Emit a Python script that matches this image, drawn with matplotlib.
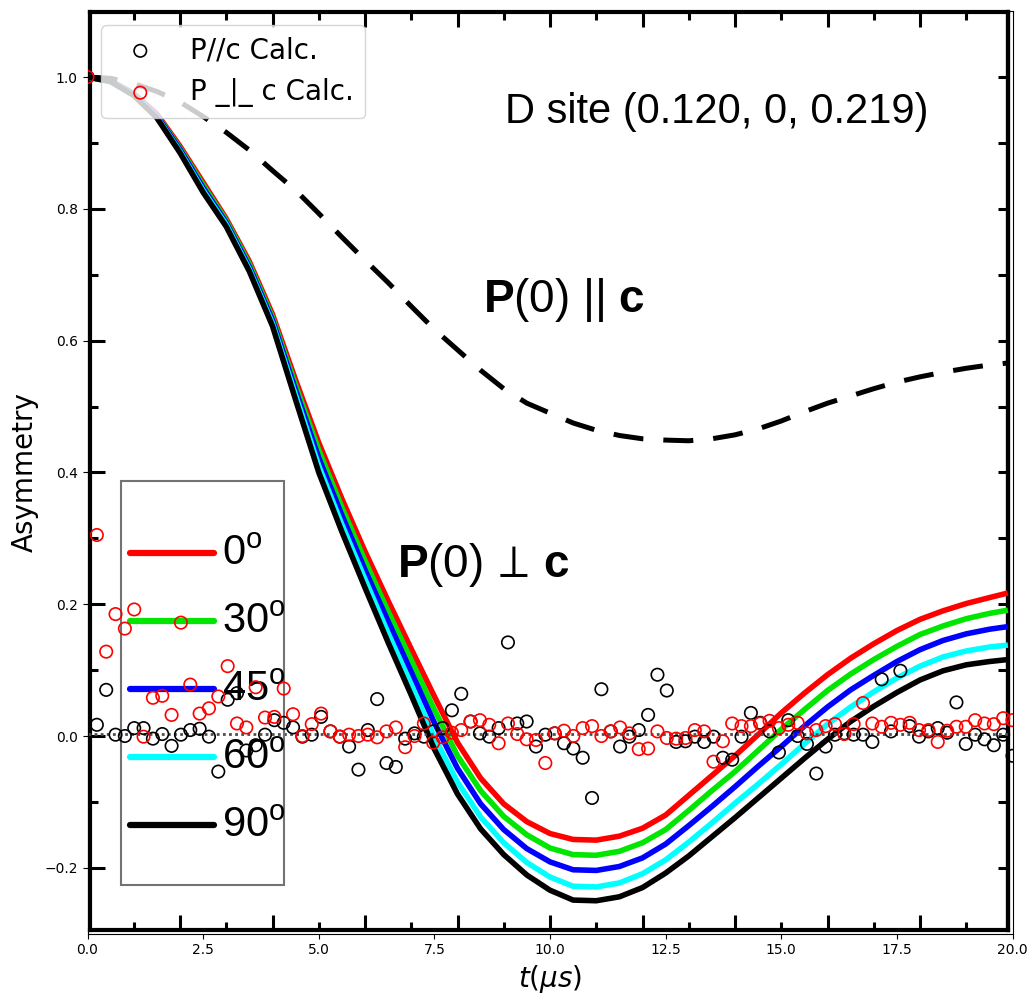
import numpy as np
import matplotlib.pyplot as plt
from matplotlib.patches import Rectangle

plt.rcParams['mathtext.fontset'] = 'custom'
plt.rcParams['mathtext.rm'] = 'Liberation Sans'
plt.rcParams['mathtext.bf'] = 'Liberation Sans:bold'
plt.rcParams['mathtext.it'] = 'Liberation Sans:italic'

# simulated muon asymmetry, 100 time points
t_calc = np.linspace(0, 20, 100)
p_par = [1.0, 0.017, 0.070, 0.002, 0.000, 0.012, 0.012, -0.004, 0.003, -0.015,
         0.002, 0.009, 0.011, -0.001, -0.054, 0.055, 0.065, -0.022, -0.014, 0.002,
         0.024, 0.020, 0.013, -0.001, 0.002, 0.029, 0.007, -0.001, -0.016, -0.051,
         0.009, 0.056, -0.041, -0.047, -0.004, 0.004, -0.001, 0.007, 0.012, 0.039,
         0.064, 0.022, 0.004, -0.001, 0.012, 0.142, 0.019, 0.022, -0.016, 0.002,
         0.004, -0.011, -0.019, -0.033, -0.094, 0.071, 0.007, -0.016, -0.001, 0.009,
         0.032, 0.093, 0.069, -0.009, -0.008, -0.001, -0.009, -0.001, -0.033, -0.036,
         -0.001, 0.035, 0.020, 0.007, -0.025, 0.024, 0.000, -0.012, -0.057, -0.016,
         0.002, 0.004, 0.002, 0.002, -0.009, 0.086, 0.007, 0.099, 0.015, -0.001,
         0.007, 0.012, 0.005, 0.051, -0.012, 0.002, -0.005, -0.014, 0.002, -0.030]
p_perp = [1.0, 0.305, 0.128, 0.185, 0.163, 0.192, -0.001, 0.058, 0.061, 0.032,
          0.172, 0.078, 0.034, 0.042, 0.060, 0.106, 0.019, 0.013, 0.074, 0.028,
          0.029, 0.072, 0.033, 0.000, 0.018, 0.034, 0.007, -0.001, 0.002, 0.000,
          0.002, -0.002, 0.007, 0.013, -0.017, 0.000, 0.019, -0.010, -0.002, 0.005,
          0.009, 0.022, 0.024, 0.017, -0.011, 0.019, 0.003, -0.005, -0.006, -0.041,
          0.004, 0.008, 0.000, 0.012, 0.015, 0.000, 0.007, 0.013, 0.004, -0.020,
          -0.019, 0.007, -0.003, -0.004, -0.003, 0.009, 0.007, -0.039, -0.008, 0.019,
          0.015, 0.015, 0.019, 0.023, 0.012, 0.017, 0.020, 0.004, 0.009, 0.015,
          0.018, 0.003, 0.018, 0.050, 0.019, 0.014, 0.020, 0.017, 0.020, 0.009,
          0.009, -0.009, 0.008, 0.014, 0.014, 0.024, 0.019, 0.018, 0.027, 0.024]

# curves of the published figure (background)
t_curve = np.r_[np.arange(0, 19.6, 0.5), 19.9]
deg0 = [1.000, 0.994, 0.975, 0.944, 0.895, 0.840, 0.785, 0.720, 0.640, 0.540,
        0.445, 0.360, 0.280, 0.205, 0.132, 0.060, -0.010, -0.064, -0.103, -0.130,
        -0.148, -0.157, -0.158, -0.152, -0.140, -0.120, -0.090, -0.060, -0.030, 0.002,
        0.035, 0.065, 0.093, 0.118, 0.140, 0.160, 0.177, 0.190, 0.201, 0.210, 0.217]
deg30 = [1.000, 0.994, 0.974, 0.942, 0.892, 0.836, 0.782, 0.716, 0.635, 0.532,
         0.434, 0.347, 0.266, 0.189, 0.115, 0.040, -0.030, -0.083, -0.122, -0.150,
         -0.170, -0.180, -0.181, -0.175, -0.162, -0.142, -0.113, -0.083, -0.054, -0.022,
         0.010, 0.040, 0.069, 0.094, 0.116, 0.136, 0.154, 0.167, 0.178, 0.186, 0.191]
deg45 = [1.000, 0.994, 0.974, 0.941, 0.890, 0.832, 0.779, 0.712, 0.631, 0.525,
         0.422, 0.335, 0.252, 0.174, 0.097, 0.020, -0.049, -0.103, -0.142, -0.171,
         -0.191, -0.203, -0.204, -0.198, -0.185, -0.164, -0.136, -0.107, -0.077, -0.046,
         -0.016, 0.015, 0.044, 0.070, 0.092, 0.113, 0.131, 0.145, 0.155, 0.162, 0.166]
deg60 = [1.000, 0.993, 0.973, 0.939, 0.887, 0.828, 0.776, 0.708, 0.626, 0.517,
         0.410, 0.321, 0.238, 0.156, 0.078, -0.002, -0.070, -0.123, -0.162, -0.192,
         -0.214, -0.228, -0.229, -0.223, -0.209, -0.188, -0.161, -0.132, -0.102, -0.073,
         -0.043, -0.012, 0.018, 0.044, 0.067, 0.088, 0.106, 0.120, 0.129, 0.135, 0.138]
deg90 = [1.000, 0.993, 0.972, 0.938, 0.885, 0.825, 0.773, 0.705, 0.622, 0.510,
         0.400, 0.310, 0.225, 0.142, 0.062, -0.020, -0.088, -0.141, -0.180, -0.211,
         -0.234, -0.249, -0.250, -0.244, -0.230, -0.208, -0.182, -0.153, -0.124, -0.094,
         -0.064, -0.034, -0.005, 0.022, 0.045, 0.066, 0.085, 0.099, 0.108, 0.113, 0.116]
par_curve = [1.000, 0.998, 0.990, 0.978, 0.962, 0.940, 0.916, 0.889, 0.858, 0.828,
             0.793, 0.757, 0.722, 0.688, 0.652, 0.617, 0.586, 0.555, 0.527, 0.505,
             0.490, 0.475, 0.464, 0.456, 0.451, 0.449, 0.448, 0.451, 0.457, 0.466,
             0.478, 0.492, 0.505, 0.516, 0.527, 0.537, 0.545, 0.552, 0.558, 0.563, 0.566]

angle_labels = ['0', '30', '45', '60', '90']
angle_curves = [deg0, deg30, deg45, deg60, deg90]
angle_colors = ['#ff0000', '#00e600', '#0000ff', '#00ffff', '#000000']

fig = plt.figure(figsize=(10.36, 10.05), dpi=100)
ax = fig.add_axes([87.5 / 1036, 1 - 933.7 / 1005, 925 / 1036, 922.6 / 1005])
inner = fig.add_axes([89.5 / 1036, 1 - 929.5 / 1005, 918 / 1036, 917 / 1005])
inner.set_zorder(0)
ax.set_zorder(1)
ax.patch.set_visible(False)

# frame of the embedded figure
inner.set_xlim(0.043, 19.89)
inner.set_ylim(-0.2936, 1.0979)
inner.set_xticks(np.arange(2, 20, 2))
inner.set_xticks(np.arange(1, 20, 2), minor=True)
inner.set_yticks(np.arange(-0.2, 1.01, 0.2))
inner.set_yticks(np.arange(-0.1, 1.01, 0.2), minor=True)
inner.tick_params(which='both', direction='in', top=True, right=False, width=2.2,
                  labelbottom=False, labelleft=False)
inner.tick_params(which='major', length=11)
inner.tick_params(which='minor', length=6)
for s in inner.spines.values():
    s.set_linewidth(3)
sec = inner.secondary_yaxis('right')
sec.set_yticks(np.arange(-0.2, 1.05, 0.1))
sec.set_yticklabels([])
sec.tick_params(direction='in', length=7, width=2.2)
sec.spines['right'].set_linewidth(3)

for vals, col in zip(angle_curves, angle_colors):
    ax.plot(t_curve, vals, color=col, lw=4, solid_capstyle='butt', zorder=1)
ax.plot(t_curve, par_curve, color='k', lw=3.6, dashes=(6, 4), zorder=1)
ax.axhline(0.003, xmin=0, xmax=0.995, color='0.3', lw=2, dashes=(1, 1.2), zorder=1.5)

# legend box of the embedded figure
ax.add_patch(Rectangle((0.0357, 0.0528), 0.1763, 0.4382, transform=ax.transAxes,
                       facecolor='none', edgecolor='0.45', lw=1.5, zorder=2))
for i, (lab, col) in enumerate(zip(angle_labels, angle_colors)):
    yy = 0.4126 - i * 0.0737
    ax.plot([0.046, 0.1368], [yy, yy], transform=ax.transAxes, color=col, lw=4.5,
            solid_capstyle='round', zorder=2)
    ax.text(0.145, yy, r'$\mathrm{%s}^{\mathrm{o}}$' % lab, transform=ax.transAxes,
            fontsize=30, va='center', ha='left', zorder=2)

ax.text(9.03, 0.947, 'D site (0.120, 0, 0.219)', family='Liberation Sans',
        fontsize=30, va='center', ha='left', zorder=2)
ax.text(8.55, 0.662, r'$\mathbf{P}\mathrm{(0)\ ||\ }\mathbf{c}$', fontsize=33,
        va='center', ha='left', zorder=2)
ax.text(6.69, 0.259, r'$\mathbf{P}\mathrm{(0)}\,\perp\,\mathbf{c}$', fontsize=33,
        va='center', ha='left', zorder=2)

ax.scatter(t_calc, p_par, s=80, facecolors='none', edgecolors='k', linewidths=1.2,
           label='P//c Calc.', zorder=3)
ax.scatter(t_calc, p_perp, s=80, facecolors='none', edgecolors='r', linewidths=1.2,
           label='P _|_ c Calc.', zorder=3)

ax.set_xlim(0, 20)
ax.set_ylim(-0.3, 1.1)
ax.set_xlabel(r'$t(\mu s)$', fontsize=20, math_fontfamily='dejavusans')
ax.set_ylabel('Asymmetry', fontsize=20)
ax.legend(loc='upper left', fontsize=20)

fig.savefig('out.png', dpi=100)
